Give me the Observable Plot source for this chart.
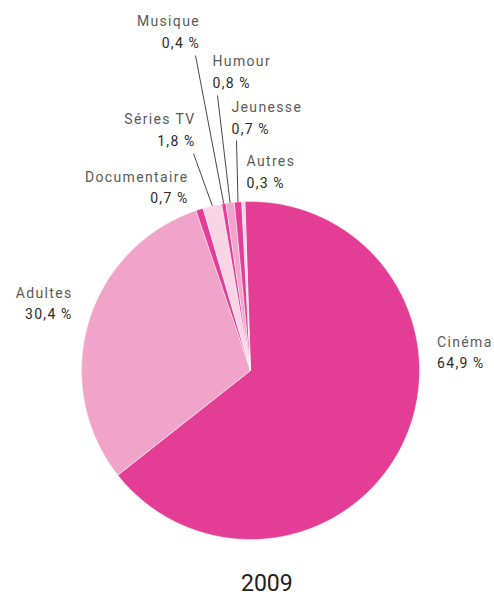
<!DOCTYPE html>
<html>
<head>
<meta charset="utf-8">
<script src="https://cdn.jsdelivr.net/npm/d3@7"></script>
<script src="https://cdn.jsdelivr.net/npm/@observablehq/plot@0.6"></script>
<style>
  html, body { margin: 0; padding: 0; background: #fff; overflow: hidden; }
  #chart svg text { letter-spacing: 1.35px; }
  #year { width: 494px; height: 24px; text-align: left; padding-left: 241px; box-sizing: border-box;
          font-family: Roboto, sans-serif; font-size: 23px; line-height: 24px; color: #222; }
</style>
</head>
<body>
<div id="chart"></div>
<div id="year"></div>
<script>
// ---- data ----
const categories = ["Cinéma", "Adultes", "Documentaire", "Séries TV", "Musique", "Humour", "Jeunesse", "Autres"];
const shares = [64.9, 30.4, 0.7, 1.8, 0.4, 0.8, 0.7, 0.3];
const sliceColors = ["#e43d96", "#f0a4c9", "#e43d96", "#f9d4e5", "#e43d96", "#f0a4c9", "#e43d96", "#f9d4e5"];
const year = "2009";

// ---- layout ----
const W = 494, H = 572;
const cx = 250, cy = 370, R = 169;
const startDeg = -1.9;
// label layout in pixels: anchor, x, name baseline, value baseline, leader start (or null)
const labelLayout = {
  "Cinéma":       {anchor: "start", x: 436.5, ny: 346, vy: 367, lead: null},
  "Adultes":      {anchor: "end",   x: 72,    ny: 297, vy: 318, lead: null},
  "Documentaire": {anchor: "end",   x: 188,   ny: 181, vy: 202, lead: null},
  "Séries TV":    {anchor: "end",   x: 195,   ny: 123, vy: 145, lead: [193, 153]},
  "Musique":      {anchor: "end",   x: 199.5, ny: 25,  vy: 47,  lead: [195, 55]},
  "Humour":       {anchor: "start", x: 212,   ny: 65,  vy: 87,  lead: [217, 95]},
  "Jeunesse":     {anchor: "start", x: 231,   ny: 111, vy: 133, lead: [236, 140]},
  "Autres":       {anchor: "start", x: 246,   ny: 165, vy: 187, lead: null}
};
const ux = px => (px - cx) / R;
const uy = py => (cy - py) / R;

const fmt = v => v.toFixed(1).replace(".", ",") + "\u2009%";

const data = categories.map((name, i) => ({name, value: shares[i]}));
const a0 = startDeg * Math.PI / 180;
const arcs = d3.pie().sort(null).value(d => d.value).startAngle(a0).endAngle(a0 + 2 * Math.PI)(data);

const pts = [];
for (const a of arcs) {
  const name = a.data.name;
  pts.push({name, x: 0, y: 0});
  const n = Math.max(2, Math.ceil((a.endAngle - a.startAngle) / (0.4 * Math.PI / 180)));
  for (let k = 0; k <= n; k++) {
    const t = a.startAngle + (a.endAngle - a.startAngle) * k / n;
    pts.push({name, x: Math.sin(t), y: Math.cos(t)});
  }
  pts.push({name, x: 0, y: 0});
}

const labels = arcs.map(a => {
  const L = labelLayout[a.data.name];
  const mid = (a.startAngle + a.endAngle) / 2;
  return {
    name: a.data.name, value: fmt(a.data.value), anchor: L.anchor,
    x: ux(L.x), ny: uy(L.ny), vy: uy(L.vy),
    lead: L.lead ? {x1: ux(L.lead[0]), y1: uy(L.lead[1]), x2: Math.sin(mid), y2: Math.cos(mid)} : null
  };
});
const leads = labels.filter(d => d.lead).map(d => d.lead);

const textMarks = [];
for (const anchor of ["start", "end"]) {
  const sub = labels.filter(d => d.anchor === anchor);
  textMarks.push(Plot.text(sub, {x: "x", y: "ny", text: "name", textAnchor: anchor, lineAnchor: "bottom",
    fontSize: 14, fill: "#5a5a5a"}));
  textMarks.push(Plot.text(sub, {x: "x", y: "vy", text: "value", textAnchor: anchor, lineAnchor: "bottom",
    fontSize: 14, fill: "#2a2a2a"}));
}

const chart = Plot.plot({
  width: W, height: H, margin: 0,
  style: {fontFamily: "Roboto, sans-serif", background: "#fff"},
  x: {domain: [-1, 1], range: [cx - R, cx + R], axis: null},
  y: {domain: [-1, 1], range: [cy + R, cy - R], axis: null},
  color: {domain: categories, range: sliceColors},
  marks: [
    Plot.line(pts, {x: "x", y: "y", z: "name", fill: "name", stroke: "white", strokeWidth: 0.5, curve: "linear"}),
    Plot.link(leads, {x1: "x1", y1: "y1", x2: "x2", y2: "y2", stroke: "#333", strokeWidth: 0.9}),
    ...textMarks
  ]
});
document.getElementById("chart").appendChild(chart);
document.getElementById("year").textContent = year;
</script>
</body>
</html>
